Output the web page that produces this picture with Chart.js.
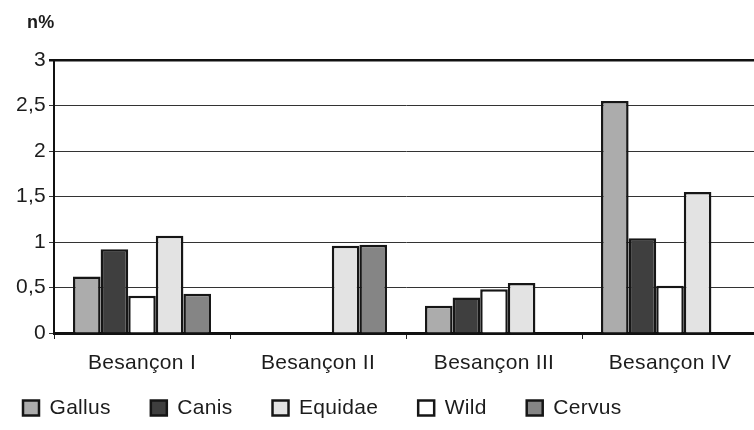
<!DOCTYPE html>
<html>
<head>
<meta charset="utf-8">
<script src="https://cdn.jsdelivr.net/npm/chart.js@4/dist/chart.umd.min.js"></script>
<style>
  html, body { margin: 0; padding: 0; overflow: hidden; background: #ffffff; }
  canvas { display: block; }
</style>
</head>
<body>
<canvas id="chart" width="758" height="430"></canvas>
<script>
// Sites along the x axis
const categories = ['Besançon I', 'Besançon II', 'Besançon III', 'Besançon IV'];

// Percentages per taxon (n%)
const gallus  = [0.62, 0,    0.30, 2.55];
const canis   = [0.92, 0,    0.39, 1.04];
const wild    = [0.41, 0,    0.48, 0.52];
const equidae = [1.07, 0.96, 0.55, 1.55];
const cervus  = [0.43, 0.97, 0,    0];

// Order of the entries in the key below the chart
const legendOrder = ['Gallus', 'Canis', 'Equidae', 'Wild', 'Cervus'];

// Value axis range and step
const yMin = 0;
const yMax = 3;
const yStep = 0.5;

const FONT = "'Liberation Sans', Arial, Helvetica, sans-serif";
const INK = '#1c1c1c';
const TRACKING = '0.3px';

// Places the heading and the key where they belong and applies a slight tracking to all text
const placeBlocks = {
  id: 'placeBlocks',
  beforeLayout(chart) { chart.ctx.letterSpacing = TRACKING; },
  beforeDraw(chart) { chart.ctx.letterSpacing = TRACKING; },
  afterLayout(chart) {
    const lg = chart.legend;
    const pad = lg.options.labels.padding;
    lg.left = 23 - pad;
    lg.top = 397.5 - pad;
    lg.bottom = 430;
    lg.height = lg.bottom - lg.top;
    chart.titleBlock.left = 27;
  }
};

const barStyle = (color) => ({
  backgroundColor: color,
  borderColor: '#161616',
  borderWidth: 2.5,
  categoryPercentage: 0.784,
  barPercentage: 1.0
});

new Chart(document.getElementById('chart'), {
  type: 'bar',
  data: {
    labels: categories,
    datasets: [
      Object.assign({ label: 'Gallus',  data: gallus },  barStyle('#acacac')),
      Object.assign({ label: 'Canis',   data: canis },   barStyle('#3f3f3f')),
      Object.assign({ label: 'Wild',    data: wild },    barStyle('#ffffff')),
      Object.assign({ label: 'Equidae', data: equidae }, barStyle('#e3e3e3')),
      Object.assign({ label: 'Cervus',  data: cervus },  barStyle('#858585'))
    ]
  },
  options: {
    responsive: false,
    animation: false,
    layout: { padding: 0 },
    plugins: {
      tooltip: { enabled: false },
      title: {
        display: true,
        text: 'n%',
        align: 'start',
        color: INK,
        font: { family: FONT, size: 18, weight: 'bold' },
        padding: { top: 12.5, bottom: 25.9 }
      },
      legend: {
        position: 'bottom',
        align: 'start',
        maxHeight: 53,
        labels: {
          color: INK,
          font: { family: FONT, size: 21 },
          boxWidth: 16,
          boxHeight: 15,
          padding: 40,
          sort: (a, b) => legendOrder.indexOf(a.text) - legendOrder.indexOf(b.text)
        }
      }
    },
    scales: {
      x: {
        afterFit(scale) { scale.height = 44; },
        grid: {
          offset: true,
          drawOnChartArea: false,
          drawTicks: true,
          tickLength: 6,
          color: '#222222',
          lineWidth: 1
        },
        border: { display: true, color: '#111111', width: 3 },
        ticks: {
          color: INK,
          font: { family: FONT, size: 21 },
          padding: 12,
          maxRotation: 0
        }
      },
      y: {
        min: yMin,
        max: yMax,
        afterFit(scale) { scale.width = 54; },
        grid: {
          drawTicks: true,
          tickLength: 5,
          color: (ctx) => (ctx.tick && ctx.tick.value === yMax ? '#111111' : '#333333'),
          lineWidth: (ctx) => (ctx.tick && ctx.tick.value === yMax ? 2.5 : 1)
        },
        border: { display: true, color: '#111111', width: 2 },
        ticks: {
          stepSize: yStep,
          color: INK,
          font: { family: FONT, size: 21 },
          padding: 3,
          callback: (v) => String(v).replace('.', ',')
        }
      }
    }
  },
  plugins: [placeBlocks]
});
</script>
</body>
</html>
